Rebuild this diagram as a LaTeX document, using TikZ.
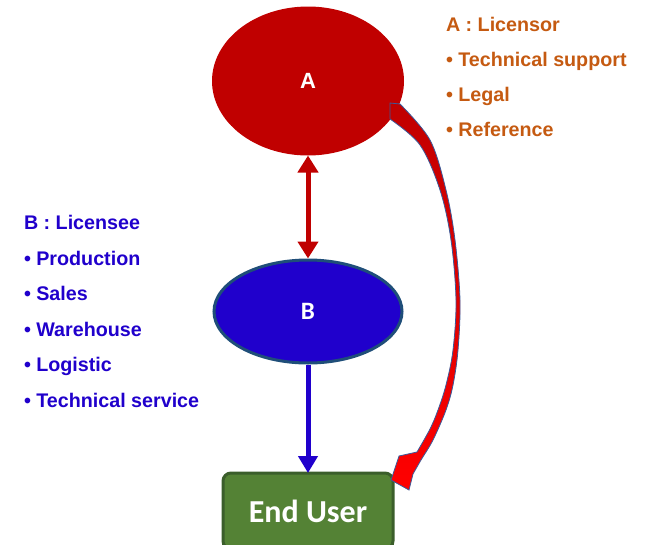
\documentclass[tikz,border=0pt]{standalone}
\usepackage{fontspec}
\setmainfont{Liberation Sans}
\newfontfamily\calib{Carlito}
\usetikzlibrary{shapes.geometric,arrows.meta}
\definecolor{darkred}{HTML}{C00000}
\definecolor{brightred}{HTML}{FF0000}
\definecolor{deepblue}{HTML}{2000CC}
\definecolor{slateborder}{HTML}{1F4E79}
\definecolor{orangetxt}{HTML}{C55A11}
\definecolor{greenfill}{HTML}{548235}
\definecolor{greenborder}{HTML}{3B5E2B}
\definecolor{arrowborder}{HTML}{3A5A9A}
\tikzset{
  listtxt/.style={anchor=base west, inner sep=0pt, outer sep=0pt, font=\fontsize{19.7}{23}\selectfont\bfseries},
  listA/.style={listtxt, text=orangetxt},
  listB/.style={listtxt, text=deepblue},
  ellA/.style={ellipse, fill=darkred, minimum width=192pt, minimum height=149pt, inner sep=0pt, outer sep=0pt, text=white, font=\fontsize{22}{26}\selectfont\bfseries},
  ellB/.style={ellipse, fill=deepblue, draw=slateborder, line width=3pt, minimum width=188pt, minimum height=103pt, inner sep=0pt, text=white, font=\calib\fontsize{25}{28}\selectfont\bfseries},
  userbox/.style={rectangle, rounded corners=8pt, fill=greenfill, draw=greenborder, line width=3pt, minimum width=170pt, minimum height=76pt, outer sep=0pt, text=white, font=\calib\fontsize{32}{36}\selectfont\bfseries},
  redlink/.style={draw=darkred, line width=5pt, {Triangle[width=20pt,length=17pt]}-{Triangle[width=20pt,length=17pt]}},
  bluelink/.style={draw=deepblue, line width=5pt, -{Triangle[width=19pt,length=17pt]}},
  curvedarrow/.style={top color=darkred, bottom color=brightred, draw=arrowborder, line width=0.8pt, line join=miter}
}
\begin{document}
\begin{tikzpicture}[x=1pt,y=-1pt]
\useasboundingbox (0,0) rectangle (648,544);
\clip (0,0) rectangle (648,544);

% main nodes
\node[ellA] (A) at (308,81) {A};
\node[ellB] (B) at (308,311.5) {B};
\node[userbox, anchor=north] (EU) at (308,473) {\raisebox{-4pt}{End User}};

% curved block arrow from A to End User
\path[curvedarrow] (390,103) -- plot[smooth, tension=0.55] coordinates {(400,104) (430,140) (446,190) (455,240) (460,300) (458,350) (453,385) (446,410) (433,440) (421,460) (413,474)}
  -- (409,490) -- (391,480) -- (399,456)
  -- plot[smooth, tension=0.55] coordinates {(417,452) (430,429) (438,410) (446,385) (453,350) (456,300) (451,240) (440,190) (420,145) (390,119)}
  -- cycle;

% connectors
\draw[redlink] (A.south) -- (B.north);
\draw[bluelink] (B.south) -- (EU.north);

% A list
\node[listA] (a0) at (446,31.7) {A : Licensor};
\node[listA] (a1) at (446,66.7) {• Technical support};
\node[listA] (a2) at (446,101.7) {• Legal};
\node[listA] (a3) at (446,136.7) {• Reference};

% B list
\node[listB] (b0) at (24,229.3) {B : Licensee};
\node[listB] (b1) at (24,265) {• Production};
\node[listB] (b2) at (24,300.5) {• Sales};
\node[listB] (b3) at (24,336) {• Warehouse};
\node[listB] (b4) at (24,371.5) {• Logistic};
\node[listB] (b5) at (24,407) {• Technical service};
\end{tikzpicture}
\end{document}
